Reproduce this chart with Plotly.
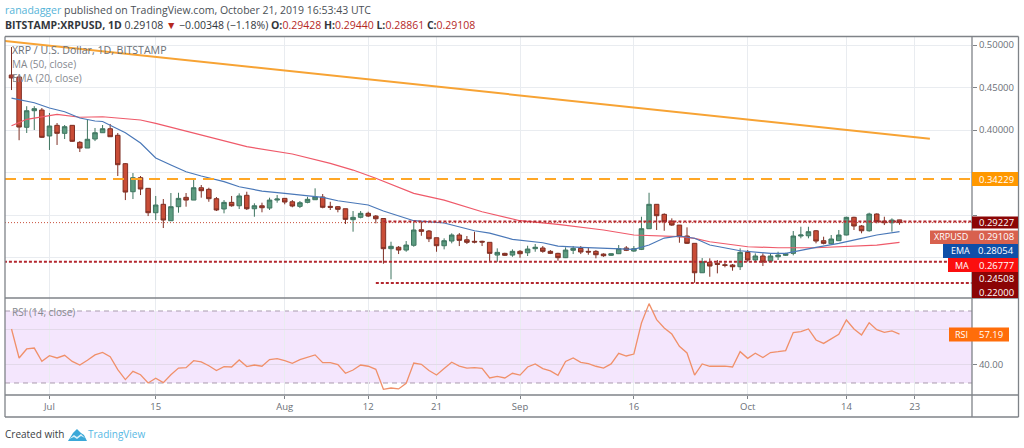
import pandas as pd
import plotly.graph_objects as go

W, H = 1024, 448
FONT = "Open Sans"

open_prices = [
    .4647, .4624, .4032, .4227, .4235, .3930, .4055, .3961, .4055, .3855,
    .3788, .3894, .3968, .4015, .3938, .3604, .3274, .3439, .3314, .3027,
    .3126, .2933, .3098, .3208, .3176, .3321, .3302, .3192, .3071, .3149,
    .3109, .3232, .3074, .3109, .3082, .3176, .3196, .3156, .3102, .3149,
    .3180, .3212, .3102, .3098, .3074, .2945, .2973, .3020, .2988, .2959,
    .2604, .2621, .2588, .2644, .2827, .2812, .2733, .2639, .2694, .2765,
    .2709, .2691, .2691, .2679, .2529, .2549, .2529, .2573, .2556, .2604,
    .2612, .2573, .2549, .2498, .2585, .2608, .2573, .2573, .2541, .2526,
    .2545, .2612, .2576, .2596, .2839, .3126, .3008, .2929, .2882, .2753,
    .2667, .2321, .2444, .2432, .2415, .2412, .2392, .2561, .2471, .2518,
    .2459, .2509, .2526, .2549, .2753, .2756, .2815, .2698, .2662, .2698,
    .2765, .2973, .2871, .2815, .3012, .2929, .2909, .29428]
high_prices = [
    .4976, .4647, .4280, .4280, .4259, .4200, .4082, .4059, .4059, .3870,
    .4118, .4024, .4059, .4071, .3965, .3612, .3494, .3459, .3318, .3224,
    .3188, .3259, .3262, .3259, .3435, .3353, .3321, .3212, .3176, .3224,
    .3255, .3274, .3138, .3145, .3204, .3235, .3200, .3176, .3165, .3215,
    .3314, .3247, .3156, .3106, .3074, .3047, .3047, .3039, .3000, .2965,
    .2686, .2635, .2694, .2921, .2921, .2824, .2733, .2726, .2785, .2788,
    .2753, .2804, .2698, .2679, .2608, .2556, .2596, .2588, .2639, .2659,
    .2635, .2588, .2556, .2620, .2635, .2635, .2620, .2588, .2549, .2549,
    .2647, .2635, .2635, .2980, .3262, .3129, .3020, .2961, .2882, .2855,
    .2667, .2494, .2491, .2471, .2439, .2424, .2608, .2588, .2549, .2549,
    .2549, .2568, .2556, .2812, .2862, .2862, .2824, .2745, .2765, .2824,
    .2980, .2980, .2882, .3027, .3020, .2980, .2961, .2944]
low_prices = [
    .4470, .3880, .3965, .4000, .3906, .3765, .3824, .3894, .3859, .3741,
    .3788, .3870, .3965, .3921, .3459, .3176, .3188, .3235, .2988, .2941,
    .2847, .2929, .3027, .3098, .3176, .3204, .3156, .3047, .3020, .3098,
    .3071, .3059, .2980, .3032, .3059, .3145, .3126, .3091, .3082, .3138,
    .3180, .3079, .3059, .3032, .2894, .2804, .2961, .2976, .2902, .2427,
    .2244, .2541, .2568, .2627, .2756, .2682, .2568, .2596, .2667, .2635,
    .2659, .2667, .2635, .2451, .2451, .2518, .2509, .2497, .2518, .2568,
    .2556, .2541, .2462, .2494, .2541, .2541, .2533, .2491, .2509, .2518,
    .2541, .2576, .2568, .2588, .2839, .2824, .2815, .2871, .2674, .2659,
    .2204, .2318, .2274, .2314, .2385, .2345, .2353, .2451, .2451, .2400,
    .2451, .2471, .2518, .2526, .2726, .2726, .2667, .2655, .2659, .2694,
    .2761, .2824, .2785, .2804, .2902, .2882, .2804, .28861]
close_prices = [
    .4612, .4035, .4227, .4251, .3914, .4047, .3961, .4039, .3867, .3788,
    .3891, .3968, .4015, .3921, .3592, .3270, .3439, .3306, .3027, .3118,
    .2941, .3098, .3196, .3176, .3321, .3286, .3192, .3059, .3149, .3109,
    .3224, .3074, .3109, .3086, .3176, .3188, .3153, .3106, .3145, .3185,
    .3212, .3091, .3091, .3067, .2949, .2973, .3020, .2988, .2956, .2604,
    .2632, .2588, .2647, .2824, .2808, .2721, .2639, .2698, .2765, .2702,
    .2679, .2682, .2682, .2549, .2561, .2526, .2573, .2545, .2600, .2621,
    .2573, .2549, .2498, .2588, .2608, .2565, .2565, .2533, .2521, .2545,
    .2604, .2585, .2604, .2839, .3126, .2992, .2921, .2882, .2745, .2667,
    .2321, .2451, .2400, .2420, .2408, .2392, .2561, .2471, .2518, .2447,
    .2518, .2529, .2545, .2753, .2765, .2804, .2694, .2667, .2718, .2765,
    .2973, .2871, .2815, .3012, .2921, .2909, .2941, .29108]
rsi_values = [
    60.0, 43.9, 48.9, 49.4, 42.0, 45.2, 43.9, 45.4, 42.0, 40.0,
    42.6, 45.6, 47.0, 44.6, 37.4, 31.9, 36.5, 34.6, 30.0, 32.6,
    30.2, 34.6, 38.3, 38.5, 42.4, 41.7, 39.6, 36.9, 39.1, 38.9,
    42.8, 39.1, 40.0, 39.3, 43.0, 43.5, 42.4, 40.9, 43.0, 44.4,
    45.6, 41.3, 41.3, 40.2, 35.4, 37.2, 40.0, 39.3, 37.6, 26.5,
    27.2, 26.7, 29.8, 41.1, 40.4, 36.9, 34.4, 38.0, 41.5, 39.4,
    38.3, 38.5, 38.1, 32.8, 33.7, 32.8, 35.4, 34.4, 38.9, 40.6,
    38.0, 36.7, 34.3, 42.0, 43.9, 41.5, 40.7, 39.3, 38.3, 40.6,
    46.5, 45.0, 46.1, 63.3, 74.1, 65.2, 60.6, 57.2, 50.4, 46.7,
    34.4, 40.6, 39.3, 39.3, 39.4, 38.9, 47.4, 43.7, 46.5, 44.1,
    46.9, 47.4, 48.0, 58.0, 58.5, 60.0, 53.9, 52.0, 54.6, 57.0,
    65.0, 60.0, 56.7, 63.5, 59.6, 58.1, 58.9, 57.19]

# moving averages read at a few candles only
ema_days = [0, 2, 3, 5, 7, 9, 11, 12, 13, 15, 17, 19, 21, 23, 25, 28, 30, 33, 36, 39, 41, 43, 47, 49,
            53, 57, 61, 63, 66, 70, 72, 75, 79, 82, 84, 86, 88, 90, 92, 96, 100, 102, 106, 109, 112, 114, 117]
ema_values = [.4376, .4345, .4321, .4259, .4215, .4141, .4106, .4100, .4059, .3968, .3847, .3671, .3588,
              .3509, .3459, .3392, .3333, .3282, .3255, .3227, .3208, .3168, .3118, .3047,
              .2933, .2906, .2815, .2788, .2714, .2674, .2635, .2620, .2604, .2596, .2647, .2729,
              .2753, .2727, .2647, .2580, .2549, .2549, .2620, .2667, .2726, .2765, .28054]
ma_days = [0, 2, 6, 9, 12, 17, 19, 25, 31, 37, 42, 45, 48, 53, 57, 62, 67, 72, 78, 82, 85, 88, 90, 92,
           97, 101, 106, 110, 114, 117]
ma_values = [.4051, .4126, .4185, .4150, .4156, .4118, .4079, .3941, .3804, .3718, .3608, .3529, .3432,
             .3255, .3176, .3039, .2933, .2891, .2824, .2765, .2753, .2747, .2726, .2686,
             .2627, .2615, .2615, .2627, .2647, .26777]

trend_dates = ["2019-06-25", "2019-10-25"]
trend_values = [.5048, .3898]
resistance_level = .34229
support_levels = [.29227, .24508, .22000]
support_starts = ["2019-08-14", "2019-06-25", "2019-08-13"]
last_close = .29108

tick_dates = ["2019-07-01", "2019-07-15", "2019-08-01", "2019-08-12", "2019-08-21",
              "2019-09-01", "2019-09-16", "2019-10-01", "2019-10-14", "2019-10-23"]
tick_labels = ["Jul", "15", "Aug", "12", "21", "Sep", "16", "Oct", "14", "23"]
price_ticks = [.50, .45, .40, .35, .30, .25]
# the lower ones sit under the coloured price labels
price_labels = ["0.50000", "0.45000", "0.40000", "", "", ""]

dates = pd.date_range("2019-06-26", periods=len(close_prices))
x_start, x_end = "2019-06-25 03:25", "2019-10-30 13:12"
axis_end = "2019-10-31"


def px(x):
    return x / W


def py(y):
    return 1 - y / H


fig = go.Figure()

fig.add_trace(go.Scatter(x=[dates[i] for i in ma_days], y=ma_values, mode="lines",
                         line=dict(color="#ef5a6a", width=1.2), yaxis="y"))
fig.add_trace(go.Scatter(x=[dates[i] for i in ema_days], y=ema_values, mode="lines",
                         line=dict(color="#4a78b8", width=1.2), yaxis="y"))
fig.add_trace(go.Candlestick(
    x=dates, open=open_prices, high=high_prices, low=low_prices, close=close_prices, yaxis="y",
    increasing=dict(fillcolor="#5c9c80", line=dict(color="#3f7560", width=1)),
    decreasing=dict(fillcolor="#c94d37", line=dict(color="#7f2f24", width=1))))

fig.add_trace(go.Scatter(x=trend_dates, y=trend_values, mode="lines",
                         line=dict(color="#f7a334", width=2), yaxis="y"))
fig.add_trace(go.Scatter(x=[x_start, axis_end], y=[resistance_level] * 2, mode="lines",
                         line=dict(color="#ffa726", width=2, dash="11px,7px"), yaxis="y"))
fig.add_trace(go.Scatter(x=[x_start, axis_end], y=[last_close] * 2, mode="lines",
                         line=dict(color="#c8503c", width=1, dash="1px,2px"), yaxis="y"))
for level, start in zip(support_levels, support_starts):
    fig.add_trace(go.Scatter(x=[start, axis_end], y=[level] * 2, mode="lines",
                             line=dict(color="#b3262e", width=2, dash="3px,2px"), yaxis="y"))

fig.add_trace(go.Scatter(x=dates, y=rsi_values, mode="lines",
                         line=dict(color="#f0906a", width=1.3), yaxis="y2"))

shapes = []
annotations = []


def text(s, x, y, size=10, color="#6b7077", anchor="left"):
    annotations.append(dict(text=s, x=px(x), y=py(y), xref="paper", yref="paper",
                            xanchor=anchor, yanchor="middle", showarrow=False,
                            borderpad=0, borderwidth=0,
                            font=dict(family=FONT, size=size, color=color)))


def frame_line(x0, y0, x1, y1):
    shapes.append(dict(type="line", xref="paper", yref="paper", x0=px(x0), x1=px(x1), y0=py(y0), y1=py(y1),
                       line=dict(color="#7f8388", width=1.3), layer="above"))


def box(x0, x1, y0, y1, color):
    shapes.append(dict(type="rect", xref="paper", yref="paper", x0=px(x0), x1=px(x1), y0=py(y0), y1=py(y1),
                       fillcolor=color, line=dict(width=0), layer="above"))


# rsi band
shapes.append(dict(type="rect", xref="x domain", yref="y2", x0=0, x1=1, y0=30, y1=70,
                   fillcolor="#f4e6fd", line=dict(width=0), layer="below"))
for lvl in [30, 70]:
    shapes.append(dict(type="line", xref="x domain", yref="y2", x0=0, x1=1, y0=lvl, y1=lvl,
                       line=dict(color="#a99bae", width=1, dash="5px,4px"), layer="below"))

# panel frame
frame_line(5, 36.5, 1018.5, 36.5)
frame_line(5, 417, 1018.5, 417)
frame_line(5, 36.5, 5, 417)
frame_line(1018.5, 36.5, 1018.5, 417)
frame_line(972, 36.5, 972, 417)
frame_line(5, 298, 1018.5, 298)
frame_line(5, 395, 1018.5, 395)

# price labels on the right
box(972, 1018, 172, 186, "#ff9800")
text("0.34229", 996, 179, 9.5, "white", "center")
box(972, 1018, 216.5, 228.5, "#8b0505")
text("0.29227", 996, 222.5, 9.5, "white", "center")
box(930, 1018, 230.5, 244, "#d8614e")
text("XRPUSD", 951, 237, 9, "white", "center")
text("0.29108", 996, 237, 9.5, "white", "center")
box(943, 1018, 244, 258, "#0f4fa8")
text("EMA", 960, 251, 9, "white", "center")
text("0.28054", 996, 251, 9.5, "white", "center")
box(948, 1018, 258, 272, "#fb0f0f")
text("MA", 962, 265, 9, "white", "center")
text("0.26777", 996, 265, 9.5, "white", "center")
box(972, 1018, 272, 285, "#8b0505")
text("0.24508", 996, 278.5, 9.5, "white", "center")
box(972, 1018, 285, 298, "#8b0505")
text("0.22000", 996, 292, 9.5, "white", "center")
box(949, 1009, 327.5, 341.5, "#ff6d0a")
text("RSI", 961, 334.5, 9, "white", "center")
text("57.19", 991, 334.5, 9.5, "white", "center")

# header and study titles
text('<span style="color:#55b4d8">ranadagger</span> published on TradingView.com, October 21, 2019 16:53:43 UTC',
     5, 10, 10.5, "#4a4f55")
text('<b>BITSTAMP:XRPUSD, 1D</b> 0.29108 <span style="color:#b5281f">▼</span> −0.00348 (−1.18%) '
     '<b>O:</b><span style="color:#b5281f">0.29428</span> <b>H:</b><span style="color:#b5281f">0.29440</span> '
     '<b>L:</b><span style="color:#b5281f">0.28861</span> <b>C:</b><span style="color:#b5281f">0.29108</span>',
     5, 24.5, 10.5, "#33373c")
text("XRP / U.S. Dollar, 1D, BITSTAMP", 12, 50, 10.6, "#6b7077")
text("MA (50, close)", 12, 64, 10, "#85898f")
text("EMA (20, close)", 12, 78, 10, "#85898f")
text("RSI (14, close)", 12, 312, 10, "#85898f")

# footer with logo
text("Created with", 5, 433.5, 10, "#3a3e44")
text("TradingView", 88, 433.5, 10, "#56b8e4")
logo_back = [(68, 441), (73, 433), (77, 429), (81, 433), (84, 435), (87, 441)]
path = "M " + " L ".join("%f,%f" % (px(a), py(b)) for a, b in logo_back) + " Z"
shapes.append(dict(type="path", xref="paper", yref="paper", path=path, fillcolor="#3aa8d8", line=dict(width=0)))
logo_cut = [(69, 439), (74, 435), (77, 437), (81, 434), (85, 438), (81, 436), (77, 439), (74, 437)]
path = "M " + " L ".join("%f,%f" % (px(a), py(b)) for a, b in logo_cut) + " Z"
shapes.append(dict(type="path", xref="paper", yref="paper", path=path, fillcolor="#d8f0fa", line=dict(width=0)))

fig.update_layout(
    width=W, height=H,
    margin=dict(l=0, r=0, t=0, b=0),
    paper_bgcolor="white",
    plot_bgcolor="white",
    showlegend=False,
    boxgap=0.15,
    shapes=shapes,
    annotations=annotations,
    xaxis=dict(domain=[px(5), px(972)], anchor="y2", type="date", range=[x_start, x_end],
               rangeslider=dict(visible=False), tickmode="array", tickvals=tick_dates, ticktext=tick_labels,
               ticks="outside", ticklen=3, tickcolor="#7f8388", showline=False, zeroline=False,
               gridcolor="#e9ecf0", tickfont=dict(family=FONT, size=9.5, color="#6b7077")),
    yaxis=dict(domain=[py(298), py(36.5)], anchor="x", side="right", range=[.2024, .5100],
               tickmode="array", tickvals=price_ticks, ticktext=price_labels,
               ticks="outside", ticklen=4, tickcolor="#7f8388", showline=False, zeroline=False,
               gridcolor="#e9ecf0", tickfont=dict(family=FONT, size=9.5, color="#6b7077")),
    yaxis2=dict(domain=[py(395), py(298)], anchor="x", side="right", range=[23.33, 77.22],
                tickmode="array", tickvals=[40, 60], ticktext=["40.00", ""],
                ticks="outside", ticklen=4, tickcolor="#7f8388", showline=False, zeroline=False,
                gridcolor="#e3d9ea", tickfont=dict(family=FONT, size=9.5, color="#6b7077")),
)

fig.write_html("out.html", config=dict(displayModeBar=False),
               post_script="document.body.style.margin='0';")
